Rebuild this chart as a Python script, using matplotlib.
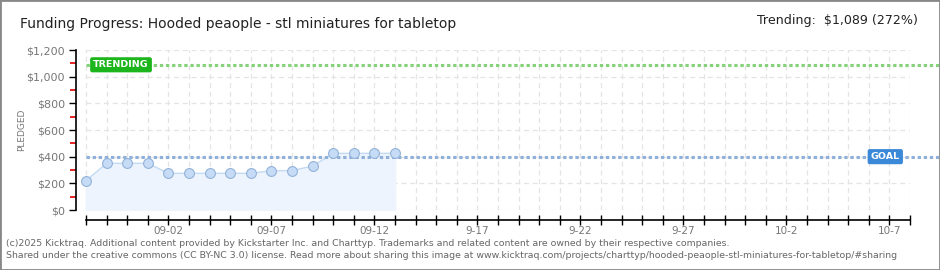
import matplotlib
matplotlib.use("Agg")
import matplotlib.pyplot as plt
import pandas as pd

# dados
datas = pd.date_range("2025-08-29", "2025-09-13", freq="D")
pledged = [220, 350, 350, 350, 275, 275, 275, 275, 275, 295, 295, 330, 425, 425, 425, 425]
goal = 400
trending = 1089
inicio = pd.Timestamp("2025-08-29")
fim = pd.Timestamp("2025-10-08")
rotulos_x = ["09-02", "09-07", "09-12", "9-17", "9-22", "9-27", "10-2", "10-7"]
rotulos_y = ["$0", "$200", "$400", "$600", "$800", "$1,000", "$1,200"]

titulo = "Funding Progress: Hooded peaople - stl miniatures for tabletop"
texto_trending = "Trending:  $1,089 (272%)"
rodape1 = ("(c)2025 Kicktraq. Additional content provided by Kickstarter Inc. and Charttyp. "
           "Trademarks and related content are owned by their respective companies.")
rodape2 = ("Shared under the creative commons (CC BY-NC 3.0) license. Read more about sharing this image at "
           "www.kicktraq.com/projects/charttyp/hooded-peaople-stl-miniatures-for-tabletop/#sharing")

cinza = "#777777"
dias = [(d - inicio).days for d in datas]
n_dias = (fim - inicio).days

fig = plt.figure(figsize=(9.4, 2.7), dpi=100)
fig.patch.set_facecolor("white")
ax = fig.add_axes([76 / 940, 60 / 270, 834 / 940, 160 / 270])

ax.set_xlim(-0.485, n_dias)
ax.set_ylim(0, 1200)

# grade tracejada
for d in range(0, n_dias + 1):
    ax.axvline(d, color="#e4e4e4", lw=0.9, ls=(0, (4, 3)), zorder=0)
for v in range(0, 1201, 200):
    ax.axhline(v, xmin=0.485 / (n_dias + 0.485), color="#e4e4e4", lw=0.9, ls=(0, (4, 3)), zorder=0)

# área e linha de pledged
ax.fill_between(dias, pledged, 0, color="#edf4fd", zorder=1)
ax.plot(dias, pledged, color="#c4daf3", lw=1, zorder=2)
ax.scatter(dias, pledged, s=50, facecolor="#c6dcf6", edgecolor="#93b2d8", lw=0.8, zorder=3)

# linhas de goal e trending
x_fim = n_dias + 1.5
ax.plot([0, x_fim], [goal, goal], color="#8eb0da", lw=2.2, ls=(0, (1.1, 0.9)), clip_on=False, zorder=2)
ax.plot([0, x_fim], [trending, trending], color="#86d27a", lw=2.2, ls=(0, (1.1, 0.9)), clip_on=False, zorder=2)

ax.text(0.35, trending, "TRENDING", color="white", fontsize=6.8, fontweight="bold", va="center", ha="left",
        bbox=dict(boxstyle="round,pad=0.25,rounding_size=0.15", fc="#1cb51c", ec="#1cb51c"), zorder=5)
ax.text(38.8, goal, "GOAL", color="white", fontsize=6.8, fontweight="bold", va="center", ha="center",
        bbox=dict(boxstyle="round,pad=0.25,rounding_size=0.15", fc="#3b88d8", ec="#3b88d8"), zorder=5)

# eixos
for lado in ["top", "right"]:
    ax.spines[lado].set_visible(False)
ax.spines["left"].set_bounds(0, 1200)
ax.spines["left"].set_linewidth(1.2)
ax.spines["bottom"].set_position(("outward", 7.2))
ax.spines["bottom"].set_bounds(0, n_dias)
ax.spines["bottom"].set_linewidth(1.2)

ax.set_yticks(range(0, 1201, 200))
ax.set_yticklabels(rotulos_y)
ax.set_yticks(range(100, 1200, 200), minor=True)
ax.tick_params(axis="y", which="major", length=5, width=1, labelsize=8, labelcolor=cinza, pad=3)
ax.tick_params(axis="y", which="minor", length=4, width=1.2, color="#e00000")

ax.set_xticks(range(0, n_dias + 1), minor=True)
ax.set_xticks(range(4, n_dias, 5))
ax.set_xticklabels(rotulos_x)
ax.tick_params(axis="x", which="both", direction="inout", length=7, width=1)
ax.tick_params(axis="x", which="major", labelsize=7.5, labelcolor=cinza, pad=1)

# textos
fig.text(22 / 940, 1 - 130 / 270, "PLEDGED", fontsize=6.5, color=cinza, rotation=90, va="center", ha="center")
fig.text(20 / 940, 1 - 24 / 270, titulo, fontsize=10, color="#222222", va="center", ha="left")
fig.text(918 / 940, 1 - 21 / 270, texto_trending, fontsize=9.1, color="#222222", va="center", ha="right")
fig.text(6 / 940, 1 - 243 / 270, rodape1, fontsize=6.75, color="#666666", va="center", ha="left")
fig.text(6 / 940, 1 - 256 / 270, rodape2, fontsize=6.75, color="#666666", va="center", ha="left")

# moldura
fig.add_artist(plt.Rectangle((0, 0), 1, 1, transform=fig.transFigure, fill=False, ec="#888888", lw=2))

fig.savefig("out.png", dpi=100)
